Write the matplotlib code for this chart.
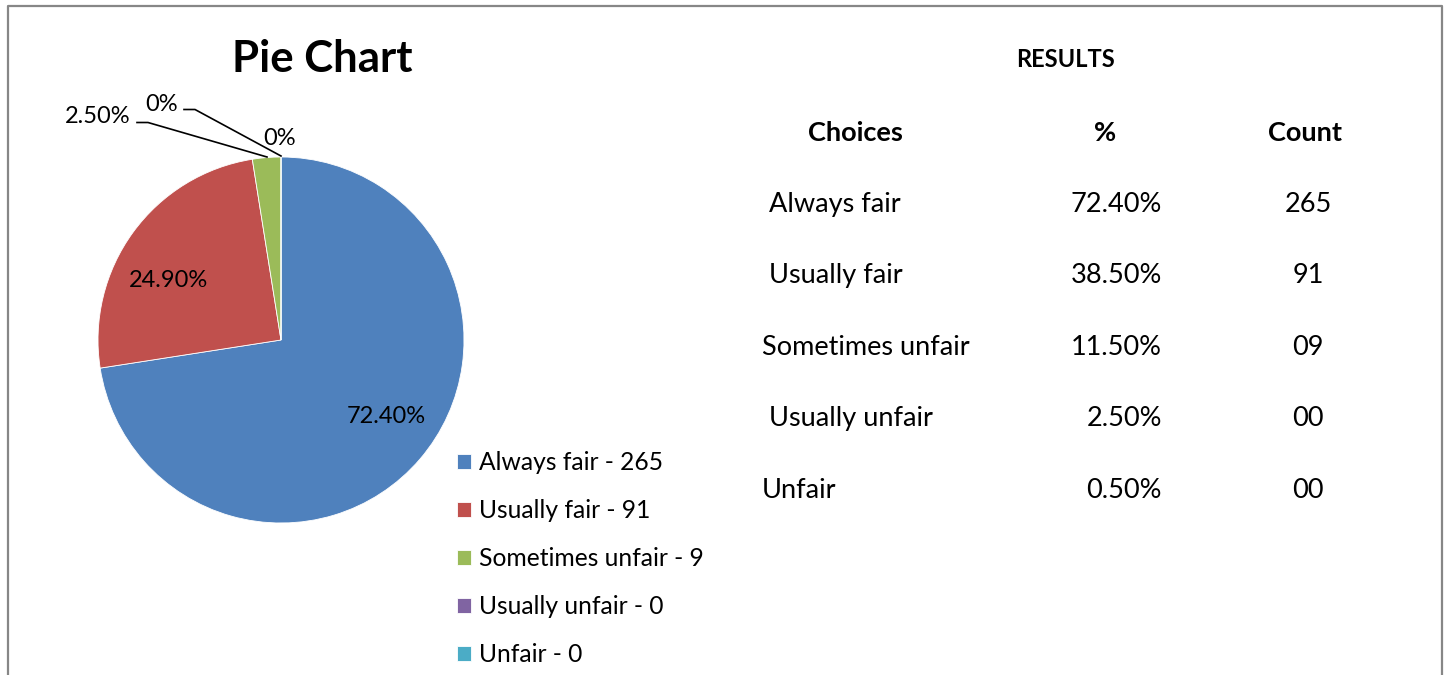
import matplotlib.pyplot as plt

plt.rcParams['font.family'] = ['Lato', 'DejaVu Sans']

# pie data
choices = ['Always fair', 'Usually fair', 'Sometimes unfair', 'Usually unfair', 'Unfair']
counts = [265, 91, 9, 0, 0]
pie_pct = [72.4, 24.9, 2.5, 0.0, 0.0]
pie_labels = ['72.40%', '24.90%', '2.50%', '0%', '0%']
colors = ['#4F81BD', '#C0504D', '#9BBB59', '#8064A2', '#4BACC6']

# results table (right side)
table_header = ['Choices', '%', 'Count']
table_choices = [' Always fair', ' Usually fair', 'Sometimes unfair', ' Usually unfair', 'Unfair']
table_pct = ['72.40%', '38.50%', '11.50%', '2.50%', '0.50%']
table_count = ['265', '91', '09', '00', '00']

W, H = 1448, 675
fig = plt.figure(figsize=(W / 100, H / 100), dpi=100)
ax = fig.add_axes([0, 0, 1, 1])

# pie (y axis is inverted below, so counterclock in data = clockwise on screen)
wedges, _ = ax.pie(pie_pct, colors=colors, startangle=270, counterclock=True,
                   center=(281, 340), radius=183,
                   wedgeprops=dict(linewidth=0.6, edgecolor='white'))
ax.set_xlim(0, W)
ax.set_ylim(H, 0)
ax.set_aspect('equal')
ax.axis('off')

# frame around the chart area
ax.plot([8, 8, 1442, 1442], [H + 5, 6, 6, H + 5], color='#878787', lw=1.6, clip_on=False)

ax.text(322, 72, 'Pie Chart', fontsize=31.5, fontweight='bold', ha='center', va='baseline')

# data labels
lab_fs = 17
ax.text(386, 423, pie_labels[0], fontsize=lab_fs, ha='center', va='baseline')
ax.text(168, 287, pie_labels[1], fontsize=lab_fs, ha='center', va='baseline')
ax.text(131, 123, pie_labels[2], fontsize=lab_fs, ha='right', va='baseline')
ax.text(162, 111, pie_labels[3], fontsize=lab_fs, ha='center', va='baseline')
ax.text(280, 145, pie_labels[4], fontsize=lab_fs, ha='center', va='baseline')

# leader lines for the small slices
ax.plot([137, 148, 267], [122.5, 122.5, 157], color='black', lw=1.2)
ax.plot([184, 195, 281], [109.5, 109.5, 156], color='black', lw=1.2)

# legend
leg_labels = [f'{c} - {n}' for c, n in zip(choices, counts)]
ax.legend(wedges, leg_labels, loc='upper left', bbox_to_anchor=(457, 451),
          bbox_transform=ax.transData, frameon=False, fontsize=17.7,
          handlelength=0.57, handleheight=0.57, handletextpad=0.33,
          labelspacing=1.02, borderpad=0, borderaxespad=0)

# results table
ax.text(1066, 67, 'RESULTS', fontsize=17, fontweight='bold', ha='center', va='baseline')
head_x = [855, 1105, 1305]
for x, h in zip(head_x, table_header):
    ax.text(x, 141, h, fontsize=19.5, fontweight='bold', ha='center', va='baseline')

row_y = [212, 283, 355, 426, 498]
for y, c, p, n in zip(row_y, table_choices, table_pct, table_count):
    ax.text(762, y, c, fontsize=19.5, ha='left', va='baseline')
    ax.text(1162, y, p, fontsize=19.5, ha='right', va='baseline')
    ax.text(1308, y, n, fontsize=19.5, ha='center', va='baseline')

fig.savefig('out.png', dpi=100)
